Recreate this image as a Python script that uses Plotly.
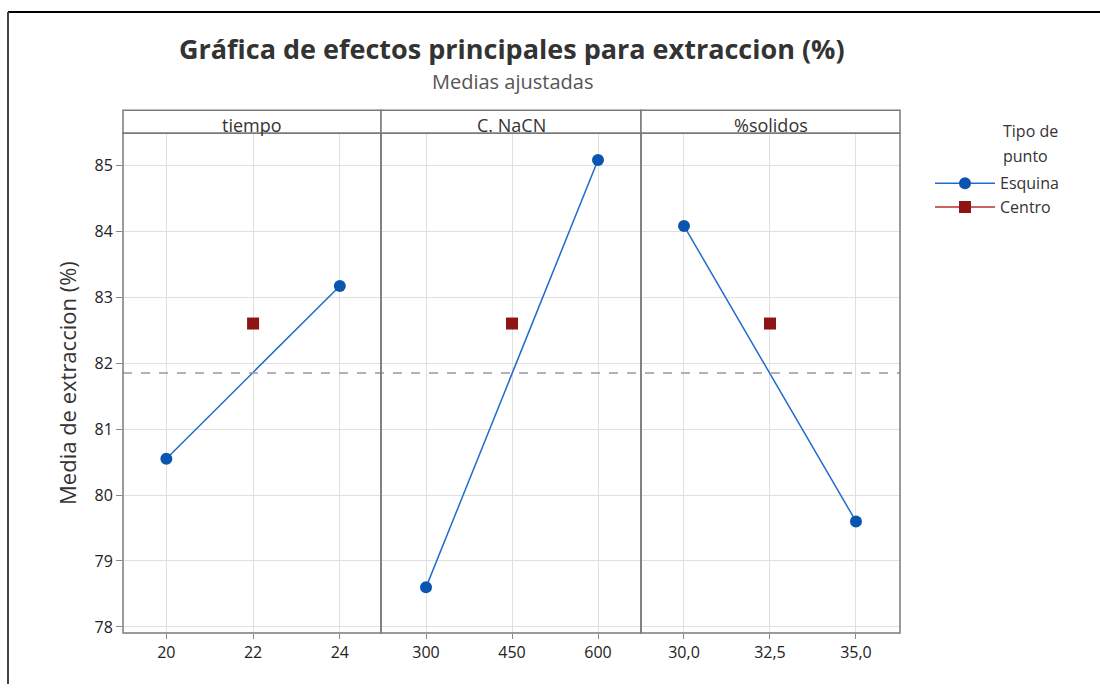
import plotly.graph_objects as go

W, H = 1100, 689

factors = ["tiempo", "C. NaCN", "%solidos"]
corner_x = [[20, 24], [300, 600], [30.0, 35.0]]
corner_y = [[80.55, 83.17], [78.60, 85.08], [84.08, 79.60]]
center_x = [22, 450, 32.5]
center_y = [82.60, 82.60, 82.60]
mean_y = 81.85
tick_vals = [[20, 22, 24], [300, 450, 600], [30.0, 32.5, 35.0]]
tick_text = [["20", "22", "24"], ["300", "450", "600"], ["30,0", "32,5", "35,0"]]
x_ranges = [[19.0, 24.95], [221.5, 675.0], [28.75, 36.28]]
y_ticks = [78, 79, 80, 81, 82, 83, 84, 85]

BLUE = "#0a55b0"
LINE_BLUE = "#1f6ccc"
RED = "#8f1515"
FONT = "Open Sans"

px = lambda x: x / W
py = lambda y: max(0.0, 1 - y / 683)

left, right = px(123), px(900)
bottom, top = py(632), py(133)
strip_top = py(110)
seps = [px(123), px(381), px(641), px(900)]

fig = go.Figure()
for i in range(3):
    xa = "x" if i == 0 else f"x{i+1}"
    fig.add_trace(go.Scatter(
        x=corner_x[i], y=corner_y[i], mode="lines+markers", xaxis=xa, yaxis="y",
        line=dict(color=LINE_BLUE, width=1.5),
        marker=dict(symbol="circle", size=12, color=BLUE),
        name="Esquina", legendgroup="e", showlegend=(i == 0)))
for i in range(3):
    xa = "x" if i == 0 else f"x{i+1}"
    fig.add_trace(go.Scatter(
        x=[center_x[i]], y=[center_y[i]], mode="lines+markers", xaxis=xa, yaxis="y",
        line=dict(color="#b03030", width=1.5),
        marker=dict(symbol="square", size=12, color=RED),
        name="Centro", legendgroup="c", showlegend=(i == 0)))

axis_common = dict(
    showgrid=True, gridcolor="#e0e0e0", gridwidth=1.3, zeroline=False,
    ticks="outside", ticklen=5, tickcolor="#888", showline=False,
    tickfont=dict(family=FONT, size=16, color="#222"), anchor="y",
)
layout_axes = {}
for i in range(3):
    key = "xaxis" if i == 0 else f"xaxis{i+1}"
    layout_axes[key] = dict(axis_common, domain=[seps[i], seps[i + 1]], range=x_ranges[i],
                            tickvals=tick_vals[i], ticktext=tick_text[i])

fig.update_layout(
    width=W, height=H, margin=dict(l=0, r=0, t=0, b=0),
    paper_bgcolor="white", plot_bgcolor="white",
    font=dict(family=FONT, color="#333"),
    yaxis=dict(domain=[bottom, top], range=[77.909, 85.486], tickvals=y_ticks,
               showgrid=True, gridcolor="#e0e0e0", gridwidth=1.3, zeroline=False,
               ticks="outside", ticklen=6, tickcolor="#888",
               tickfont=dict(family=FONT, size=16, color="#222"),
               title=dict(text="Media de extraccion (%)", font=dict(family=FONT, size=22, color="#333"),
                          standoff=11),
               anchor="x"),
    showlegend=True,
    legend=dict(x=px(930), y=py(166), xanchor="left", yanchor="top",
                font=dict(family=FONT, size=16, color="#333"), tracegroupgap=0,
                bgcolor="rgba(0,0,0,0)", itemwidth=60),
    **layout_axes,
)

shapes = []
shapes.append(dict(type="line", xref="paper", yref="y", x0=left, x1=right, y0=mean_y, y1=mean_y,
                   line=dict(color="#999", width=1.3, dash="dash"), layer="above"))
for i in range(3):
    shapes.append(dict(type="rect", xref="paper", yref="paper", x0=seps[i], x1=seps[i + 1],
                       y0=bottom, y1=top, line=dict(color="#7a7a7a", width=1.5), layer="above"))
    shapes.append(dict(type="rect", xref="paper", yref="paper", x0=seps[i], x1=seps[i + 1],
                       y0=top, y1=strip_top, line=dict(color="#7a7a7a", width=1.5),
                       fillcolor="white", layer="below"))
shapes.append(dict(type="line", xref="paper", yref="paper", x0=px(8), x1=1, y0=py(12), y1=py(12),
                   line=dict(color="black", width=2)))
shapes.append(dict(type="line", xref="paper", yref="paper", x0=px(8), x1=px(8), y0=0, y1=py(12),
                   line=dict(color="#444", width=2)))
fig.update_layout(shapes=shapes)

annotations = [
    dict(text="<b>Gráfica de efectos principales para extraccion (%)</b>", x=px(512), y=py(48),
         xref="paper", yref="paper", xanchor="center", yanchor="middle", showarrow=False,
         font=dict(family=FONT, size=27, color="#333")),
    dict(text="Medias ajustadas", x=px(512), y=py(81), xref="paper", yref="paper",
         xanchor="center", yanchor="middle", showarrow=False,
         font=dict(family=FONT, size=20, color="#555")),
    dict(text="Tipo de", x=px(1001), y=py(131), xref="paper", yref="paper",
         xanchor="left", yanchor="middle", showarrow=False,
         font=dict(family=FONT, size=16, color="#333")),
    dict(text="punto", x=px(1001), y=py(156), xref="paper", yref="paper",
         xanchor="left", yanchor="middle", showarrow=False,
         font=dict(family=FONT, size=16, color="#333")),
]
for i, f in enumerate(factors):
    annotations.append(dict(text=f, x=(seps[i] + seps[i + 1]) / 2, y=py(125),
                            xref="paper", yref="paper", xanchor="center", yanchor="middle",
                            showarrow=False, font=dict(family=FONT, size=18, color="#333")))
fig.update_layout(annotations=annotations)

fig.write_html("out.html")
